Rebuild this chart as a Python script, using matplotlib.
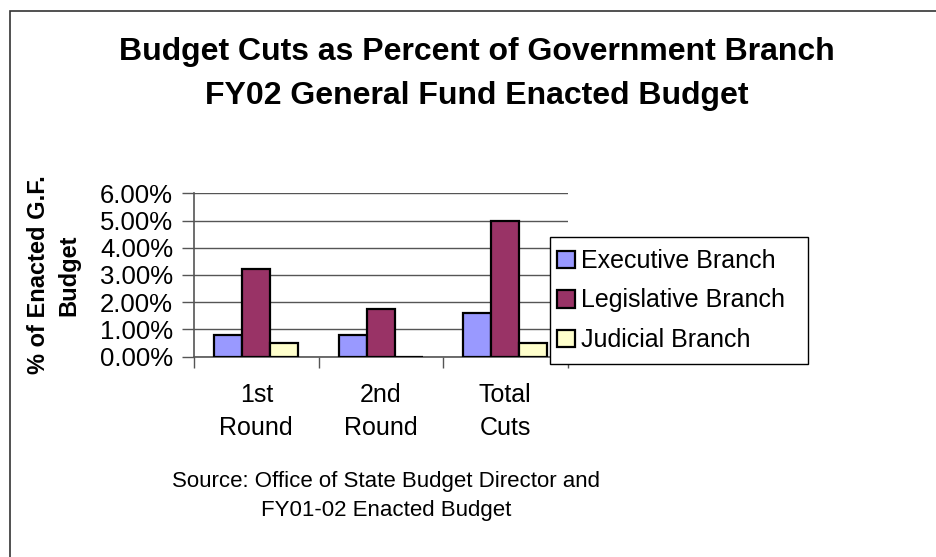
import matplotlib.pyplot as plt
import numpy as np
from matplotlib.patches import Rectangle

plt.rcParams['font.family'] = ['Liberation Sans', 'DejaVu Sans']

# data
categories = ["1st\nRound", "2nd\nRound", "Total\nCuts"]
executive = [0.0080, 0.0080, 0.0160]
legislative = [0.0322, 0.0176, 0.0500]
judicial = [0.0049, 0.0, 0.0049]
series_names = ["Executive Branch", "Legislative Branch", "Judicial Branch"]
colors = ["#9999FF", "#993366", "#FFFFCC"]
yticks = [0.0, 0.01, 0.02, 0.03, 0.04, 0.05, 0.06]

W, H = 936, 557
fig = plt.figure(figsize=(W / 100, H / 100), dpi=100)

# outer chart border (right/bottom cut off in the original)
fig.patches.append(Rectangle((10 / W, -0.05), 1.1, (H - 11) / H + 0.05,
                             transform=fig.transFigure, fill=False,
                             edgecolor="#333333", linewidth=1.2))

ax = fig.add_axes([194 / W, (H - 356.7) / H, 373.5 / W, 163.4 / H])

x = np.arange(len(categories))
bw = 0.225
for i, (vals, name, c) in enumerate(zip([executive, legislative, judicial], series_names, colors)):
    ax.bar(x + (i - 1) * bw, vals, width=bw, color=c, edgecolor="black",
           linewidth=1.6, label=name, zorder=3)

ax.set_xlim(-0.5, 2.5)
ax.set_ylim(0, 0.06)
ax.set_yticks(yticks)
ax.set_yticklabels(["%.2f%%" % (v * 100) for v in yticks], fontsize=18.5)
ax.yaxis.grid(True, color="#555555", linewidth=1.0, zorder=0)
ax.set_axisbelow(True)

# category boundary ticks on x axis, labels centered
ax.set_xticks([-0.5, 0.5, 1.5, 2.5])
ax.set_xticklabels([])
ax.set_xticks(x, minor=True)
ax.set_xticklabels(categories, minor=True, fontsize=18, linespacing=1.45)
ax.tick_params(axis="x", which="minor", length=0, pad=19)
ax.tick_params(axis="x", which="major", length=8, width=1, color="#555555")
ax.tick_params(axis="y", length=9, width=1, color="#555555", pad=6)

for s in ["top", "right"]:
    ax.spines[s].set_visible(False)
for s in ["left", "bottom"]:
    ax.spines[s].set_color("#555555")
    ax.spines[s].set_linewidth(1.2)

ax.set_ylabel("% of Enacted G.F.\nBudget", fontsize=17, fontweight="bold",
              linespacing=1.4, labelpad=14)

# legend box (white, covers the plot area behind it)
ax.add_patch(Rectangle((550 / W, (H - 364) / H), 258 / W, 127 / H,
                       transform=fig.transFigure, clip_on=False,
                       facecolor="white", edgecolor="black", linewidth=1.0, zorder=4))
leg = ax.legend(loc="upper left", bbox_to_anchor=(552 / W, (H - 244) / H),
                bbox_transform=fig.transFigure, fontsize=18, frameon=False,
                handlelength=0.7, handleheight=0.7, handletextpad=0.25,
                labelspacing=0.62, borderpad=0.2, borderaxespad=0)
leg.set_zorder(5)

fig.text(477 / W, 1 - 74 / H, "Budget Cuts as Percent of Government Branch\nFY02 General Fund Enacted Budget",
         ha="center", va="center", fontsize=23, fontweight="bold", linespacing=1.6)

fig.text(386 / W, 1 - 496 / H, "Source: Office of State Budget Director and\nFY01-02 Enacted Budget",
         ha="center", va="center", fontsize=16, linespacing=1.5)

fig.savefig("out.png", dpi=100)
